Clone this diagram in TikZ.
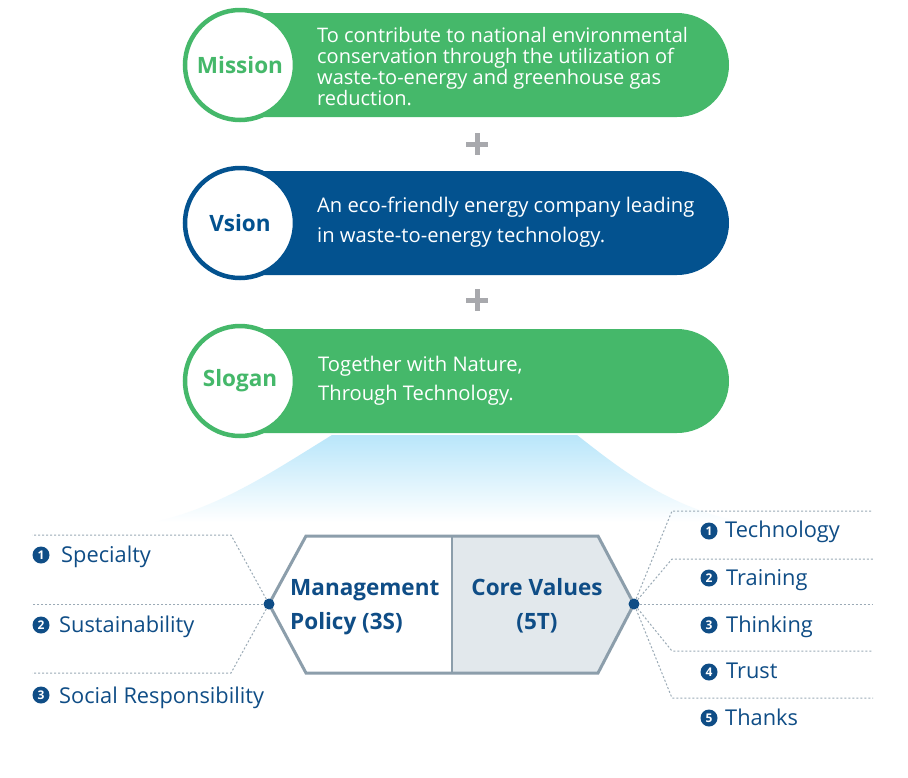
\documentclass[tikz,border=0pt]{standalone}
\usepackage{fontspec}
\setmainfont{Open Sans}
\usetikzlibrary{calc}
\definecolor{gr}{HTML}{45B86A}
\definecolor{bl}{HTML}{03528F}
\definecolor{tb}{HTML}{0F4D86}
\definecolor{plusg}{HTML}{A8A9AD}
\definecolor{sky}{HTML}{B9E6FA}
\definecolor{hexs}{HTML}{8C9EAB}
\definecolor{hexf}{HTML}{E2E8EC}
\definecolor{dl}{HTML}{9BAAB6}
\tikzset{
  circ/.style={circle, fill=white, line width=4.5pt, minimum size=110pt, inner sep=0pt,
    font=\fontsize{22.5}{22.5}\selectfont\bfseries},
  pill/.style={rounded corners=52pt},
  body/.style={anchor=base west, align=left, inner sep=0pt, text=white},
  plussign/.style={draw=plusg, line width=5pt},
  dline/.style={draw=dl, line width=1pt, dash pattern=on 2pt off 2pt},
  dot/.style={circle, fill=tb, inner sep=0pt, minimum size=11pt},
  bul/.style={circle, fill=tb, text=white, inner sep=0pt, minimum size=17pt,
    font=\fontsize{12}{12}\selectfont\bfseries},
  lbl/.style={anchor=base west, inner sep=0pt, text=tb, font=\fontsize{21.8}{21.8}\selectfont},
  hextxt/.style={inner sep=0pt, text=tb, font=\fontsize{22.5}{34}\selectfont\bfseries}
}
\begin{document}
\begin{tikzpicture}[x=1pt, y=-1pt]
\path[use as bounding box, fill=white] (0,0) rectangle (908,777);
% gradient
\shade[top color=sky, bottom color=white]
  (332,435) .. controls (272,472) and (222,506) .. (155,522) -- (740,522)
  .. controls (668,506) and (624,472) .. (577,435) -- cycle;
% pills
\fill[gr, pill] (200,13) rectangle (729,117);
\fill[bl, pill] (200,171) rectangle (729,275);
\fill[gr, pill] (200,329) rectangle (729,433);
% circles
\node[circ, draw=gr, text=gr] (mis) at (240,65) {Mission};
\node[circ, draw=bl, text=bl] (vis) at (240,223) {Vsion};
\node[circ, draw=gr, text=gr] (slo) at (240,381) {Slogan};
% texts (base anchor = baseline of last line)
\node[body, font=\fontsize{20}{21}\selectfont] (mtxt) at (317,105)
  {To contribute to national environmental\\conservation through the utilization of\\waste-to-energy and greenhouse gas\\reduction.};
\node[body, font=\fontsize{20.2}{30}\selectfont] (vtxt) at (317,242)
  {An eco-friendly energy company leading\\in waste-to-energy technology.};
\node[body, font=\fontsize{20.2}{29}\selectfont] (stxt) at (318,400)
  {Together with Nature,\\Through Technology.};
% plus signs
\draw[plussign] (466,144) -- (488,144) (477,133) -- (477,155);
\draw[plussign] (466,300) -- (488,300) (477,289) -- (477,311);
% hexagon
\fill[hexf] (452,536) -- (598,536) -- (634,604) -- (598,673) -- (452,673) -- cycle;
\draw[hexs, line width=1.5pt] (452,536) -- (452,673);
\draw[hexs, line width=3pt, line join=miter] (306,536) -- (598,536) -- (634,604) -- (598,673) -- (306,673) -- (269,604) -- cycle;
\node[hextxt, anchor=base west, align=left] (mp) at (290,629) {Management\\Policy (3S)};
\node[hextxt, anchor=base, align=center] (cv) at (537,629) {Core Values\\(5T)};
% dots
\node[dot] (ldot) at (269,604) {};
\node[dot] (rdot) at (634,604) {};
% left connectors
\coordinate (l1) at (231,535); \coordinate (l1e) at (32,535);
\coordinate (l2e) at (32,604);
\coordinate (l3) at (231,673); \coordinate (l3e) at (32,673);
\draw[dline] (ldot) -- (l1) -- (l1e);
\draw[dline] (ldot) -- (l2e);
\draw[dline] (ldot) -- (l3) -- (l3e);
% right connectors
\coordinate (r1) at (672,511); \coordinate (r1e) at (873,511);
\coordinate (r2) at (672,559); \coordinate (r2e) at (873,559);
\coordinate (r3e) at (873,604);
\coordinate (r4) at (672,651); \coordinate (r4e) at (873,651);
\coordinate (r5) at (672,698); \coordinate (r5e) at (873,698);
\draw[dline] (rdot) -- (r1) -- (r1e);
\draw[dline] (rdot) -- (r2) -- (r2e);
\draw[dline] (rdot) -- (r3e);
\draw[dline] (rdot) -- (r4) -- (r4e);
\draw[dline] (rdot) -- (r5) -- (r5e);
% left labels
\node[bul] (lb1) at (41,555) {1}; \node[lbl] (lt1) at (61,562) {Specialty};
\node[bul] (lb2) at (41,625) {2}; \node[lbl] (lt2) at (59,632) {Sustainability};
\node[bul] (lb3) at (41,695) {3}; \node[lbl] (lt3) at (59,703) {Social Responsibility};
% right labels
\node[bul] (rb1) at (709,531) {1}; \node[lbl] (rt1) at (725,537) {Technology};
\node[bul] (rb2) at (709,578) {2}; \node[lbl] (rt2) at (726,585) {Training};
\node[bul] (rb3) at (709,625) {3}; \node[lbl] (rt3) at (726,632) {Thinking};
\node[bul] (rb4) at (709,672) {4}; \node[lbl] (rt4) at (726,678) {Trust};
\node[bul] (rb5) at (709,718) {5}; \node[lbl] (rt5) at (725,725) {Thanks};
\end{tikzpicture}
\end{document}
